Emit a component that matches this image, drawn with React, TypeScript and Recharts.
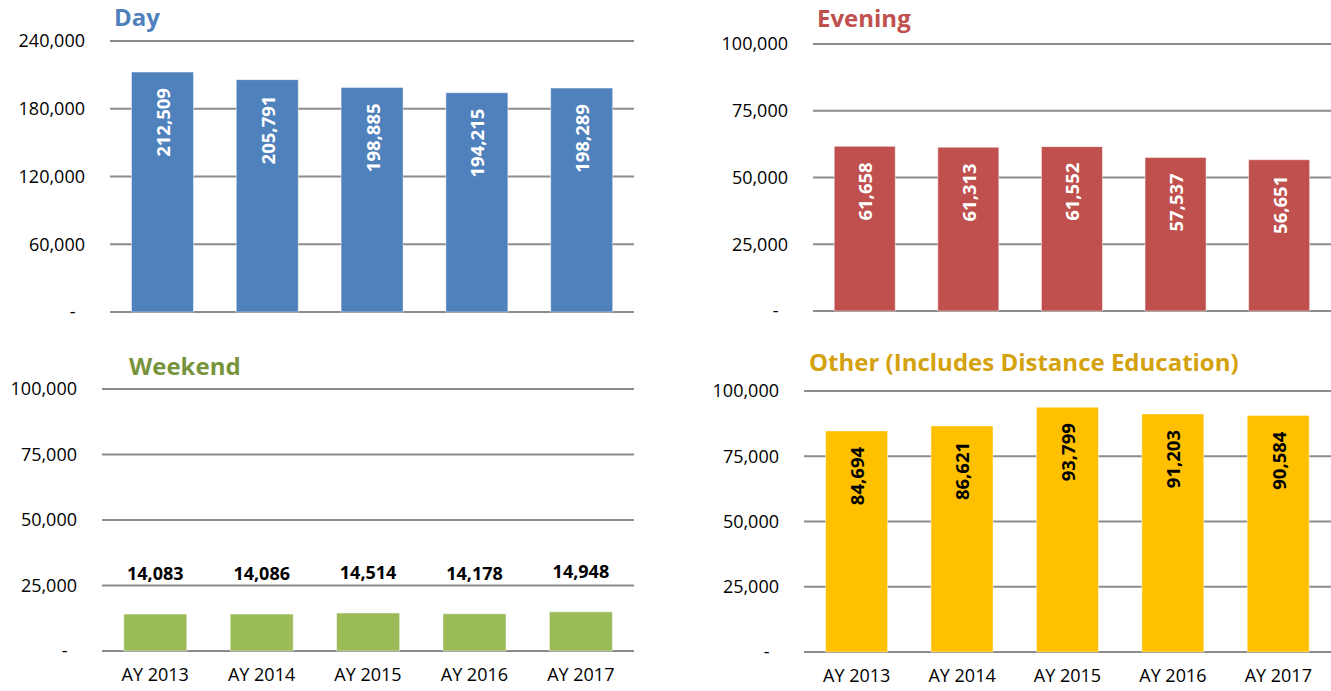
import { BarChart, Bar, XAxis, YAxis, CartesianGrid, LabelList } from 'recharts'

const years = ['AY 2013', 'AY 2014', 'AY 2015', 'AY 2016', 'AY 2017']
const dayValues = [212509, 205791, 198885, 194215, 198289]
const eveningValues = [61658, 61313, 61552, 57537, 56651]
const weekendValues = [14083, 14086, 14514, 14178, 14948]
const otherValues = [84694, 86621, 93799, 91203, 90584]
const dayTicks = [0, 60000, 120000, 180000, 240000]
const countTicks = [0, 25000, 50000, 75000, 100000]

const FONT = "'Open Sans', 'Noto Sans', sans-serif"
const GRID = '#8c8c8c'

const fmt = (v: any) => Number(v).toLocaleString('en-US')
const tickFmt = (v: number) => (v === 0 ? '-\u00A0\u00A0' : fmt(v))

const insideLabel = (color: string) => (props: any) => {
  const { x, y, width, value } = props
  const cx = Number(x) + Number(width) / 2
  const ty = Number(y) + 16
  return (
    <text
      x={cx}
      y={ty}
      transform={`rotate(-90 ${cx} ${ty})`}
      textAnchor="end"
      dominantBaseline="central"
      fill={color}
      fontSize={18.5}
      fontWeight={700}
      fontFamily={FONT}
    >
      {fmt(value)}
    </text>
  )
}

const aboveLabel = (props: any) => {
  const { x, y, width, value } = props
  const cx = Number(x) + Number(width) / 2
  return (
    <text
      x={cx}
      y={Number(y) - 41}
      textAnchor="middle"
      dominantBaseline="central"
      fill="#000"
      fontSize={18}
      fontWeight={700}
      fontFamily={FONT}
    >
      {fmt(value)}
    </text>
  )
}

interface PanelProps {
  left: number
  top: number
  width: number
  height: number
  plotLeft: number
  plotRight: number
  plotTop: number
  plotBottom: number
  values: number[]
  ticks: number[]
  fill: string
  showX: boolean
  label: 'inside' | 'above'
  labelColor: string
  title: string
  titleColor: string
  titleLeft: number
  titleTop: number
}

function Panel(p: PanelProps) {
  const data = years.map((year, i) => ({ year, value: p.values[i] }))
  const xHeight = p.height - p.plotBottom
  return (
    <>
      <div
        style={{
          position: 'absolute',
          left: p.titleLeft,
          top: p.titleTop,
          fontSize: 24,
          fontWeight: 700,
          color: p.titleColor,
          lineHeight: '30px',
          whiteSpace: 'nowrap',
        }}
      >
        {p.title}
      </div>
      <div style={{ position: 'absolute', left: p.left, top: p.top }}>
        <BarChart
          width={p.width}
          height={p.height}
          data={data}
          margin={{
            top: p.plotTop,
            right: p.width - p.plotRight,
            bottom: p.showX ? 0 : xHeight,
            left: 0,
          }}
          barCategoryGap="20.5%"
        >
          <CartesianGrid vertical={false} stroke={GRID} strokeWidth={2} />
          <XAxis
            dataKey="year"
            hide={!p.showX}
            height={xHeight}
            axisLine={false}
            tickLine={false}
            tickSize={12}
            tickMargin={5}
            tick={{ fontSize: 18, fill: '#000', fontFamily: FONT }}
          />
          <YAxis
            width={p.plotLeft}
            domain={[p.ticks[0], p.ticks[p.ticks.length - 1]]}
            ticks={p.ticks}
            interval={0}
            axisLine={false}
            tickLine={false}
            tickSize={20}
            tickMargin={5}
            tickFormatter={tickFmt}
            tick={{ fontSize: 18, fill: '#000', fontFamily: FONT }}
          />
          <Bar
            dataKey="value"
            fill={p.fill}
            stroke="rgba(255,255,255,0.45)"
            strokeWidth={1}
            isAnimationActive={false}
          >
            <LabelList
              dataKey="value"
              content={p.label === 'inside' ? insideLabel(p.labelColor) : aboveLabel}
            />
          </Bar>
        </BarChart>
      </div>
    </>
  )
}

export default function App() {
  return (
    <div
      style={{
        position: 'absolute',
        left: 0,
        top: 0,
        width: 1331,
        height: 691,
        background: '#fff',
        fontFamily: FONT,
        overflow: 'hidden',
      }}
    >
      <Panel
        left={0} top={0} width={640} height={330}
        plotLeft={110} plotRight={634} plotTop={41} plotBottom={312}
        values={dayValues} ticks={dayTicks} fill="#4F81BD"
        showX={false} label="inside" labelColor="#fff"
        title="Day" titleColor="#4F81BD" titleLeft={114} titleTop={2}
      />
      <Panel
        left={680} top={0} width={651} height={330}
        plotLeft={133} plotRight={651} plotTop={44} plotBottom={311}
        values={eveningValues} ticks={countTicks} fill="#C0504D"
        showX={false} label="inside" labelColor="#fff"
        title="Evening" titleColor="#C0504D" titleLeft={817} titleTop={3}
      />
      <Panel
        left={0} top={340} width={640} height={351}
        plotLeft={102} plotRight={634} plotTop={49} plotBottom={311}
        values={weekendValues} ticks={countTicks} fill="#9BBB59"
        showX={true} label="above" labelColor="#000"
        title="Weekend" titleColor="#77933C" titleLeft={129} titleTop={351}
      />
      <Panel
        left={680} top={340} width={651} height={351}
        plotLeft={124} plotRight={651} plotTop={51} plotBottom={312}
        values={otherValues} ticks={countTicks} fill="#FFC000"
        showX={true} label="inside" labelColor="#000"
        title="Other (Includes Distance Education)" titleColor="#D4A20F" titleLeft={809} titleTop={347}
      />
    </div>
  )
}
